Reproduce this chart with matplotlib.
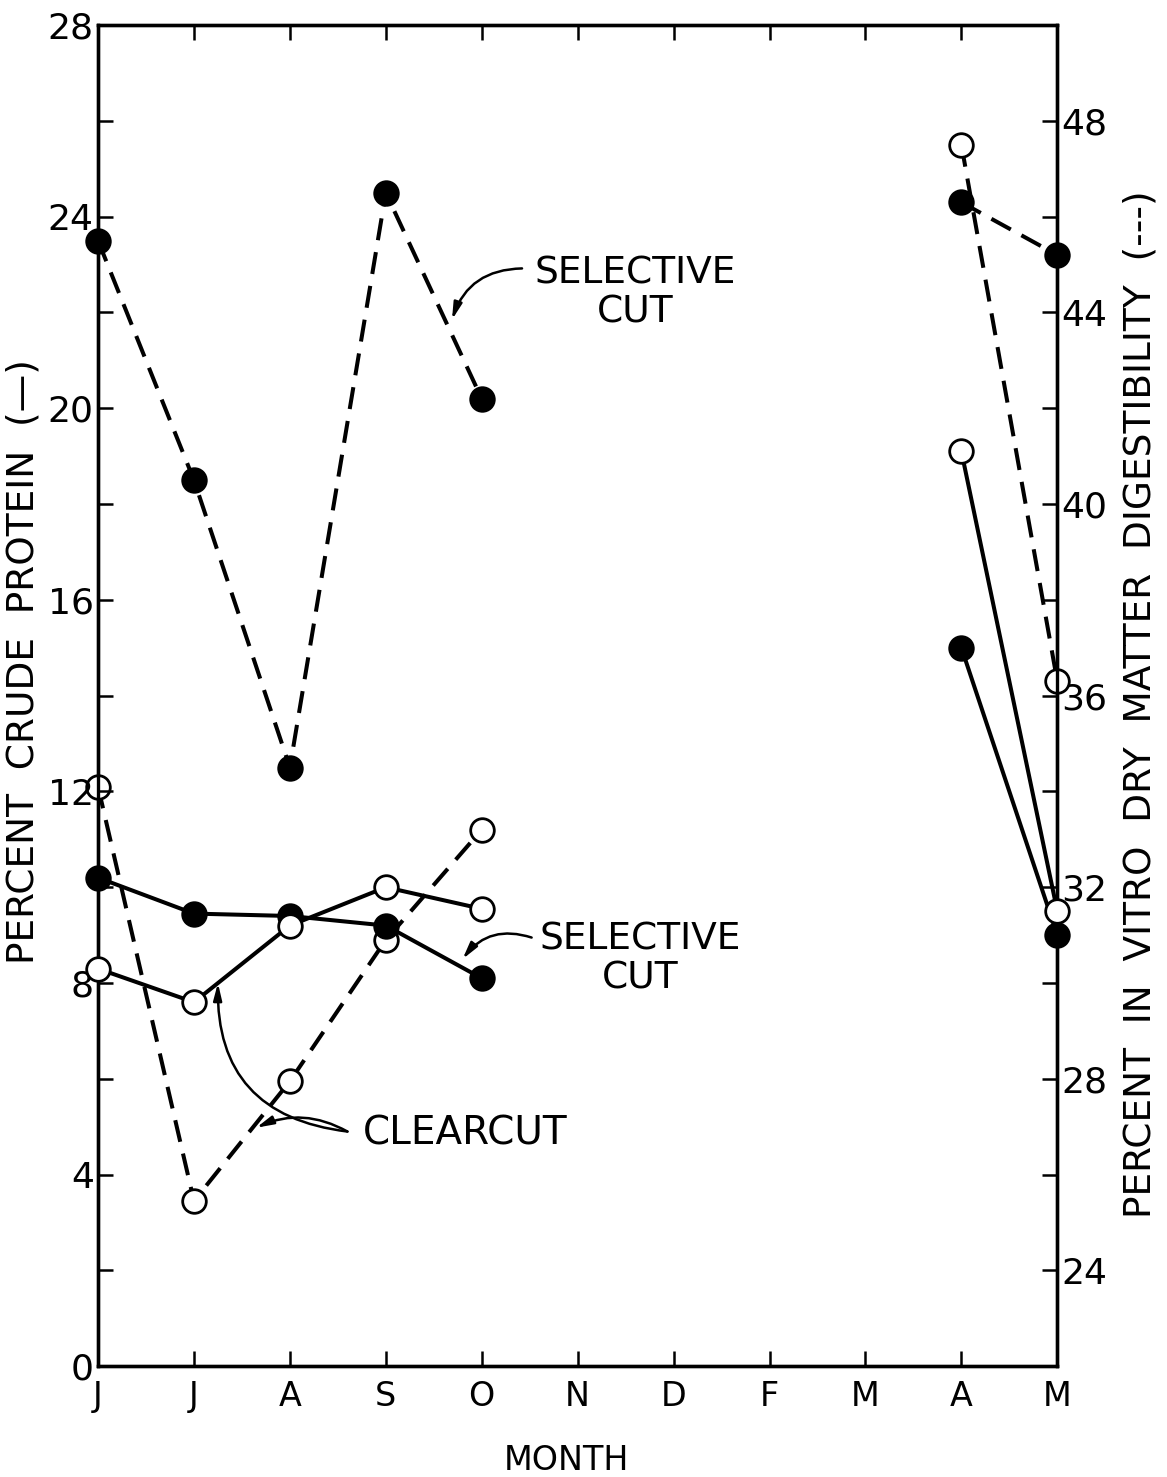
"""
Proteina cruda y digestibilidad in vitro por mes (clearcut vs selective cut).
"""
import matplotlib
matplotlib.use("Agg")
import matplotlib.pyplot as plt
from matplotlib.ticker import MultipleLocator, FixedLocator

# Meses (J J A S O N D F M A M)
months = ["J", "J", "A", "S", "O", "N", "D", "F", "M", "A", "M"]
x_first = [0, 1, 2, 3, 4]     # Jun - Oct
x_second = [9, 10]            # Apr - May

# Proteina cruda (eje izquierdo, linea continua)
cp_selective_1 = [10.2, 9.45, 9.4, 9.2, 8.1]
cp_selective_2 = [15.0, 9.0]
cp_clear_1 = [8.3, 7.6, 9.2, 10.0, 9.55]
cp_clear_2 = [19.1, 9.5]

# Digestibilidad in vitro (eje derecho, linea discontinua)
ivd_selective_1 = [45.5, 40.5, 34.5, 46.5, 42.2]
ivd_selective_2 = [46.3, 45.2]
ivd_clear_1 = [34.1, 25.45, 27.95, 30.9, 33.2]
ivd_clear_2 = [47.5, 36.3]

fig = plt.figure(figsize=(11.67, 14.77), dpi=100)
ax = fig.add_axes([0.084, 0.075, 0.822, 0.908])
ax2 = ax.twinx()

lw = 2.9
dash = (5.5, 3)
ms = 17

def serie(axis, x, y, filled, dashed):
    kw = dict(color="black", lw=lw, marker="o", ms=ms, mew=2.0,
              mec="black", mfc="black" if filled else "white",
              clip_on=False, zorder=4 if filled else 5)
    if dashed:
        kw["dashes"] = dash
    axis.plot(x, y, **kw)

# Lineas continuas: proteina cruda
for xs, ys, f in [(x_first, cp_selective_1, True), (x_second, cp_selective_2, True),
                  (x_first, cp_clear_1, False), (x_second, cp_clear_2, False)]:
    serie(ax, xs, ys, f, False)

# Lineas discontinuas: digestibilidad
for xs, ys, f in [(x_first, ivd_selective_1, True), (x_second, ivd_selective_2, True),
                  (x_first, ivd_clear_1, False), (x_second, ivd_clear_2, False)]:
    serie(ax2, xs, ys, f, True)

ax.set_zorder(ax2.get_zorder() + 1)
ax.patch.set_visible(False)

# Ejes
ax.set_xlim(0, 10)
ax.set_ylim(0, 28)
ax2.set_ylim(22, 50)

ax.set_xticks(range(len(months)))
ax.set_xticklabels(months)
ax.yaxis.set_major_locator(MultipleLocator(4))
ax.yaxis.set_minor_locator(FixedLocator([2, 6, 10, 14, 18, 22, 26]))
ax2.yaxis.set_major_locator(FixedLocator([24, 28, 32, 36, 40, 44, 48]))
ax2.yaxis.set_minor_locator(FixedLocator([26, 30, 34, 38, 42, 46]))

for a in (ax, ax2):
    for s in a.spines.values():
        s.set_linewidth(2.4)
    a.tick_params(which="both", direction="in", width=1.8, length=11,
                  labelsize=26, pad=3)

ax.tick_params(axis="x", top=True, labelsize=24, pad=10)
ax.tick_params(axis="y", which="both", right=False)
ax2.tick_params(axis="y", which="both", left=False, pad=3)

fig.text(0.02, 0.552, "PERCENT  CRUDE  PROTEIN  (—)", rotation=90,
         ha="center", va="center", fontsize=27)
fig.text(0.977, 0.523, "PERCENT  IN  VITRO  DRY  MATTER  DIGESTIBILITY  (---)",
         rotation=90, ha="center", va="center", fontsize=27)
fig.text(0.485, 0.011, "MONTH", ha="center", va="center", fontsize=24)

# Anotaciones
arrow = dict(arrowstyle="-|>,head_length=1.0,head_width=0.25", color="black",
             lw=1.8, shrinkA=0, shrinkB=0)

ax.text(5.6, 22.4, "SELECTIVE\nCUT", ha="center", va="center", fontsize=27,
        linespacing=1.1)
ax.annotate("", xy=(3.69, 21.85), xytext=(4.42, 22.92),
            arrowprops=dict(arrow, connectionstyle="arc3,rad=0.35"))

ax.text(5.65, 8.5, "SELECTIVE\nCUT", ha="center", va="center", fontsize=27,
        linespacing=1.1)
ax.annotate("", xy=(3.8, 8.5), xytext=(4.52, 8.95),
            arrowprops=dict(arrow, connectionstyle="arc3,rad=0.35"))

ax.text(3.83, 4.86, "CLEARCUT", ha="center", va="center", fontsize=28)
ax.annotate("", xy=(1.25, 8.0), xytext=(2.6, 4.9),
            arrowprops=dict(arrow, connectionstyle="arc3,rad=-0.45"))
ax.annotate("", xy=(1.65, 4.98), xytext=(2.6, 4.9),
            arrowprops=dict(arrow, connectionstyle="arc3,rad=0.25"))

plt.savefig("out.png", dpi=100)
plt.close()
